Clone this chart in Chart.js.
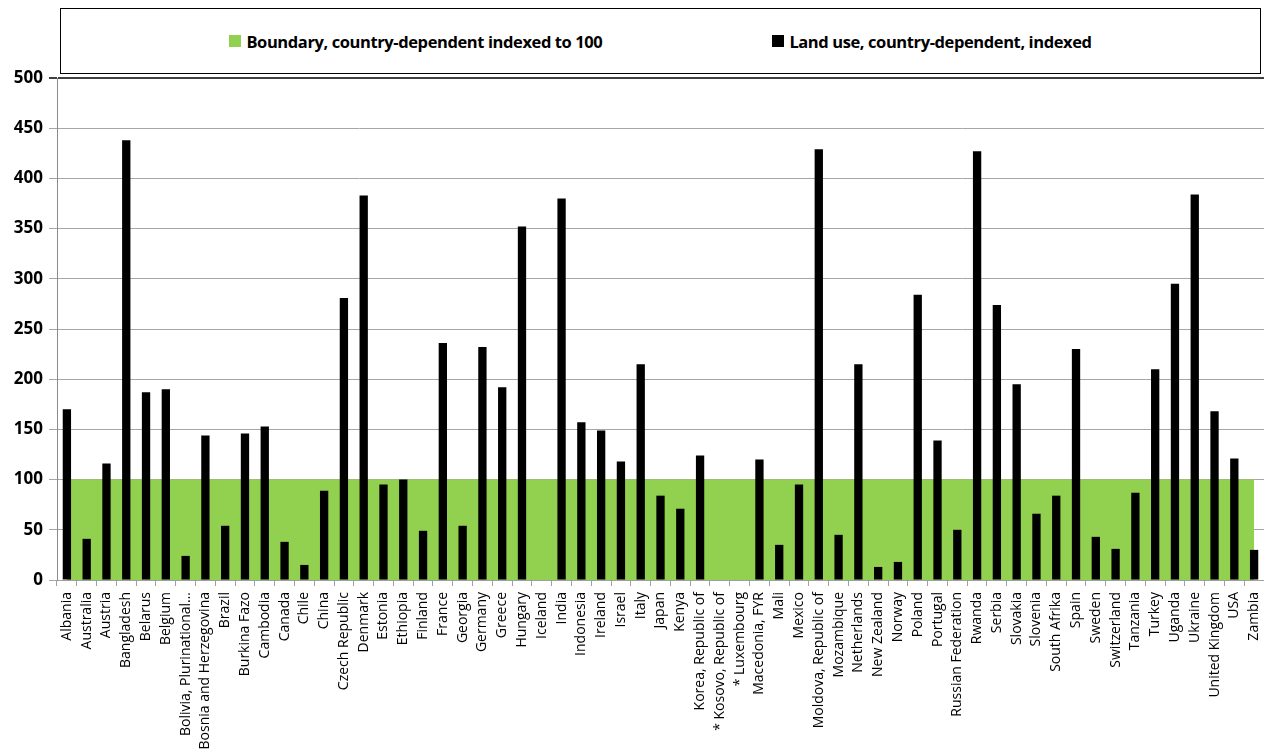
<!DOCTYPE html>
<html>
<head>
<meta charset="utf-8">
<script src="https://cdn.jsdelivr.net/npm/chart.js@4/dist/chart.umd.min.js"></script>
<style>
    html, body { margin: 0; padding: 0; background: #fff; }
    #wrap { position: relative; width: 1264px; height: 749px; }
    #legendBox {
        position: absolute; left: 60px; top: 8px; width: 1201px; height: 66px;
        border: 1px solid #000; box-sizing: border-box; background: #fff;
        display: flex; align-items: center; justify-content: center; gap: 170px;
        font-family: "Open Sans", sans-serif; font-weight: bold; font-size: 16.5px; color: #000;
        letter-spacing: -0.4px;
    }
    .item { display: flex; align-items: center; }
    .sw { width: 12px; height: 12px; margin-right: 5px; display: inline-block; }
</style>
</head>
<body>
<div id="wrap">
    <canvas id="chart" width="1264" height="749"></canvas>
    <div id="legendBox">
        <span class="item"><span class="sw" style="background:#92d050"></span>Boundary, country-dependent indexed to 100</span>
        <span class="item"><span class="sw" style="background:#000"></span>Land use, country-dependent, indexed</span>
    </div>
</div>
<script>
const countries = [
    'Albania', 'Australia', 'Austria', 'Bangladesh', 'Belarus', 'Belgium', 'Bolivia, Plurinational…',
    'Bosnia and Herzegovina', 'Brazil', 'Burkina Fazo', 'Cambodia', 'Canada', 'Chile', 'China',
    'Czech Republic', 'Denmark', 'Estonia', 'Ethiopia', 'Finland', 'France', 'Georgia', 'Germany',
    'Greece', 'Hungary', 'Iceland', 'India', 'Indonesia', 'Ireland', 'Israel', 'Italy', 'Japan',
    'Kenya', 'Korea, Republic of', '* Kosovo, Republic of', '* Luxembourg', 'Macedonia, FYR', 'Mali',
    'Mexico', 'Moldova, Republic of', 'Mozambique', 'Netherlands', 'New Zealand', 'Norway', 'Poland',
    'Portugal', 'Russian Federation', 'Rwanda', 'Serbia', 'Slovakia', 'Slovenia', 'South Afrika',
    'Spain', 'Sweden', 'Switzerland', 'Tanzania', 'Turkey', 'Uganda', 'Ukraine', 'United Kingdom',
    'USA', 'Zambia'
];

// boundary: every country indexed to 100
const boundaryValues = [
    100, 100, 100, 100, 100, 100, 100, 100, 100, 100, 100, 100, 100, 100, 100, 100, 100, 100, 100, 100,
    100, 100, 100, 100, 100, 100, 100, 100, 100, 100, 100, 100, 100, 100, 100, 100, 100, 100, 100, 100,
    100, 100, 100, 100, 100, 100, 100, 100, 100, 100, 100, 100, 100, 100, 100, 100, 100, 100, 100, 100,
    100
];

const landUseValues = [
    170, 41, 116, 438, 187, 190, 24, 144, 54, 146, 153, 38, 15, 89, 281, 383, 95, 100, 49, 236,
    54, 232, 192, 352, 0, 380, 157, 149, 118, 215, 84, 71, 124, null, null, 120, 35, 95, 429, 45,
    215, 13, 18, 284, 139, 50, 427, 274, 195, 66, 84, 230, 43, 31, 87, 210, 295, 384, 168, 121,
    30
];

const yTicks = [0, 50, 100, 150, 200, 250, 300, 350, 400, 450, 500];

new Chart(document.getElementById('chart'), {
    type: 'bar',
    data: {
        labels: countries,
        datasets: [
            {
                type: 'bar',
                label: 'Land use, country-dependent, indexed',
                data: landUseValues,
                backgroundColor: '#000000',
                barPercentage: 0.42,
                categoryPercentage: 1.0,
                order: 1
            },
            {
                type: 'line',
                label: 'Boundary, country-dependent indexed to 100',
                data: boundaryValues,
                backgroundColor: '#92d050',
                borderWidth: 0,
                pointRadius: 0,
                fill: 'origin',
                tension: 0,
                order: 2
            }
        ]
    },
    options: {
        responsive: false,
        animation: false,
        layout: { padding: { top: 78, right: 0, left: 0, bottom: 0 } },
        plugins: {
            legend: { display: false },
            tooltip: { enabled: false }
        },
        scales: {
            x: {
                offset: true,
                grid: { offset: true, drawOnChartArea: false, color: '#a0a0a0', tickLength: 6 },
                border: { color: '#a0a0a0' },
                ticks: {
                    autoSkip: false, maxRotation: 90, minRotation: 90, color: '#000',
                    font: { family: 'Open Sans', size: 14 }, padding: 6
                },
                afterFit: s => { s.height = 169; s.paddingLeft = 0; s.paddingRight = 0; }
            },
            y: {
                min: 0, max: 500,
                afterBuildTicks: s => { s.ticks = yTicks.map(v => ({ value: v })); },
                grid: {
                    color: c => c.tick && c.tick.value === 500 ? '#404040' : '#a6a6a6',
                    lineWidth: c => c.tick && c.tick.value === 500 ? 2 : 1,
                    tickLength: 8
                },
                border: { color: '#8c8c8c' },
                ticks: {
                    color: '#000', padding: 6,
                    font: { family: 'Open Sans', size: 17, weight: 'bold' }
                },
                afterFit: s => { s.width = 57; }
            }
        }
    }
});
</script>
</body>
</html>
